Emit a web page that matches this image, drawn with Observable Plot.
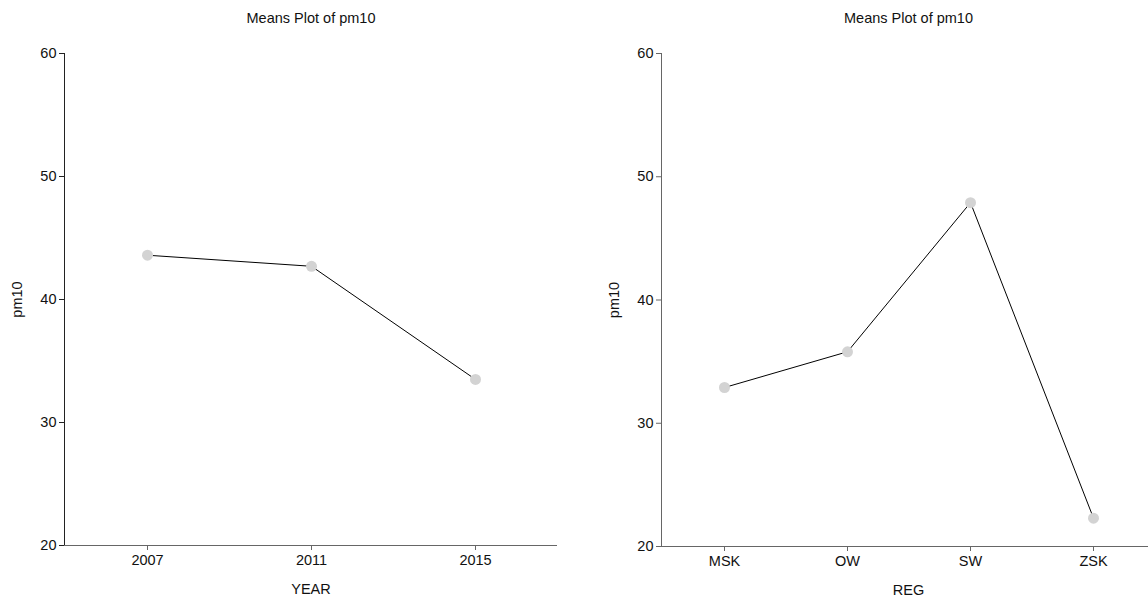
<!DOCTYPE html>
<html>
<head>
<meta charset="utf-8">
<script src="https://cdn.jsdelivr.net/npm/d3@7"></script>
<script src="https://cdn.jsdelivr.net/npm/@observablehq/plot@0.6"></script>
<style>
  html, body { margin: 0; padding: 0; background: #fff; }
  #wrap { position: relative; width: 1148px; height: 597px; overflow: hidden; }
  #wrap svg { position: absolute; top: 0; font-family: "Liberation Sans", Arial, sans-serif; }
</style>
</head>
<body>
<div id="wrap"></div>
<script>
const years = ["2007", "2011", "2015"];
const yearMeans = [43.6, 42.7, 33.5];
const regions = ["MSK", "OW", "SW", "ZSK"];
const regionMeans = [32.9, 35.8, 47.9, 22.3];
const yTicks = [20, 30, 40, 50, 60];
const titleText = "Means Plot of pm10";

function panel(cats, vals, xLabel, opts) {
  const data = cats.map((c, i) => ({cat: c, v: vals[i]}));
  return Plot.plot({
    width: opts.width,
    height: 597,
    marginLeft: opts.marginLeft,
    marginRight: opts.marginRight,
    marginTop: 53,
    marginBottom: opts.marginBottom,
    style: {fontSize: "14.5px", fontFamily: "'Liberation Sans', Arial, sans-serif", color: "#111", background: "white"},
    x: {type: "point", domain: cats, padding: 0.5},
    y: {domain: [20, 60]},
    marks: [
      Plot.frame({anchor: "left", stroke: opts.yAxisColor}),
      Plot.ruleY([20], {stroke: "#666"}),
      Plot.axisY({ticks: yTicks, tickSize: 5, tickPadding: 3, label: "pm10", labelAnchor: "center", labelArrow: "none", labelOffset: 53, fontSize: 14.5, stroke: opts.yAxisColor}),
      Plot.axisX({tickSize: 5, tickPadding: 4, label: xLabel, labelAnchor: "center", labelArrow: "none", labelOffset: 48, fontSize: 14.5, stroke: "#666"}),
      Plot.line(data, {x: "cat", y: "v", stroke: "black", strokeWidth: 1}),
      Plot.dot(data, {x: "cat", y: "v", r: 5.5, fill: "#d3d3d3", stroke: "none"}),
      Plot.text([titleText], {frameAnchor: "top", dy: -41, fontSize: 14.5, fill: "#111"})
    ]
  });
}

const wrap = document.getElementById("wrap");
const left = panel(years, yearMeans, "YEAR", {width: 574, marginLeft: 64, marginRight: 17, marginBottom: 52, yAxisColor: "#222"});
left.style.left = "0px";
wrap.appendChild(left);
const right = panel(regions, regionMeans, "REG", {width: 590, marginLeft: 87, marginRight: 9, marginBottom: 51, yAxisColor: "#666"});
right.style.left = "574px";
wrap.appendChild(right);
</script>
</body>
</html>
